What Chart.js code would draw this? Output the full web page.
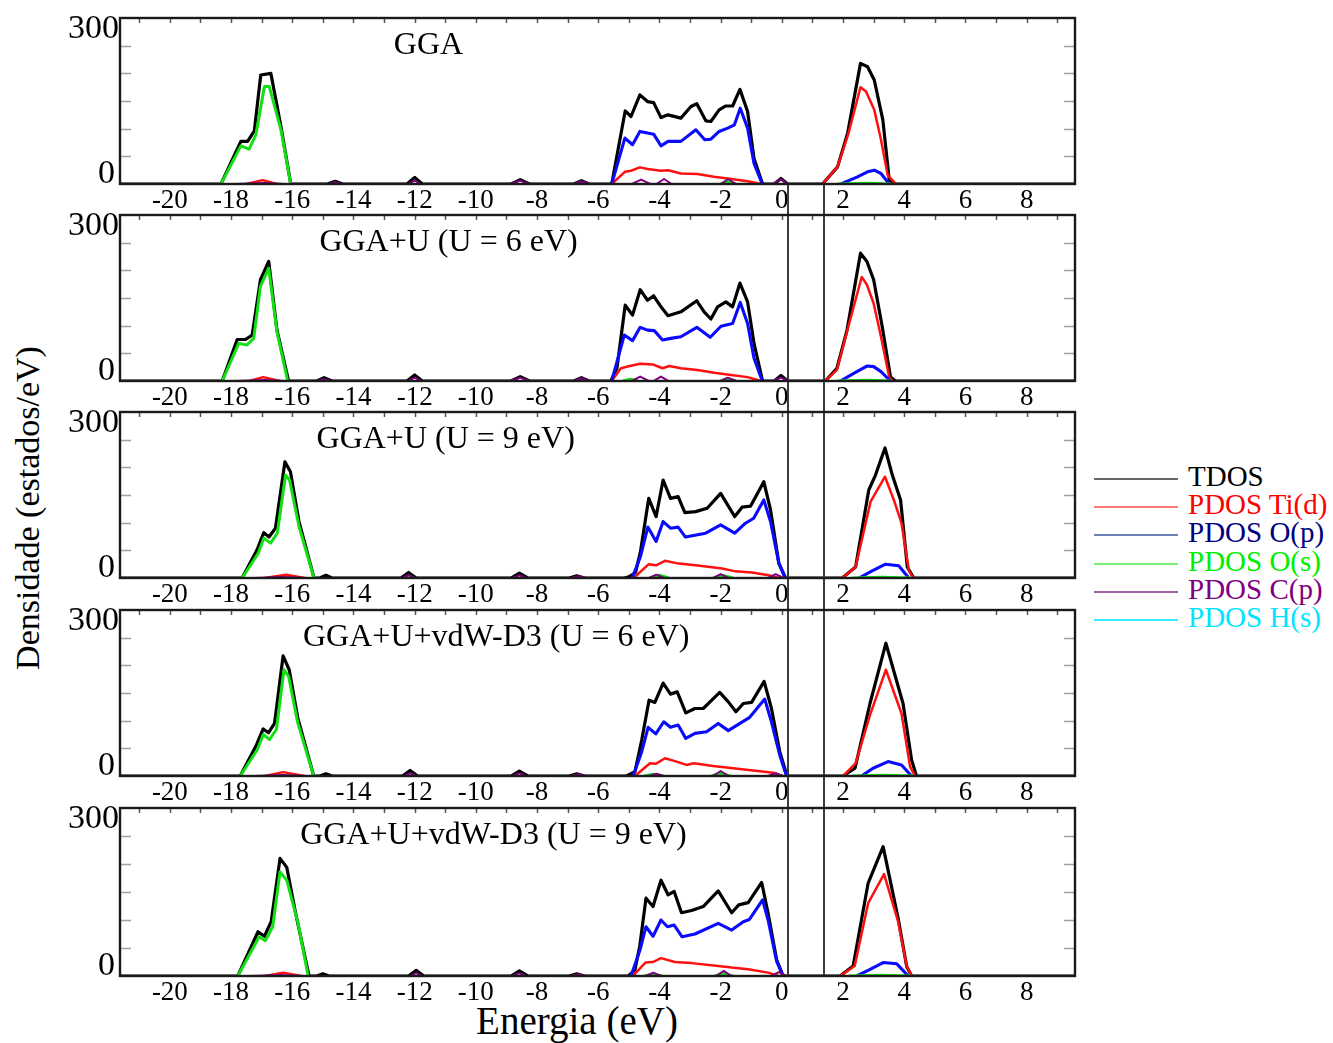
<!DOCTYPE html>
<html><head><meta charset="utf-8">
<script src="https://cdn.jsdelivr.net/npm/chart.js@4.4.1/dist/chart.umd.min.js"></script>
<style>
html,body{margin:0;padding:0;background:#fff;}
#wrap{position:relative;width:1333px;height:1043px;overflow:hidden;background:#fff;font-family:"Liberation Serif","Times New Roman",serif;}
canvas{position:absolute;left:0;}
.ttl{position:absolute;color:#000;white-space:nowrap;text-align:center;}
#ytitle{left:-172px;top:488px;width:400px;height:40px;line-height:40px;font-size:34px;transform:rotate(-90deg);}
#xtitle{left:377px;top:997px;width:400px;height:48px;line-height:48px;font-size:39px;}
.leg{position:absolute;left:1094px;height:28px;line-height:28px;font-size:29px;white-space:nowrap;}
.leg i{display:inline-block;width:84px;height:2px;vertical-align:middle;margin-right:10px;}
</style></head>
<body><div id="wrap">
<div id="ytitle" class="ttl">Densidade (estados/eV)</div>
<div id="xtitle" class="ttl">Energia (eV)</div>
</div>
<script>
// ---------- axis / label data ----------
const xTicks = [-20,-18,-16,-14,-12,-10,-8,-6,-4,-2,0,2,4,6,8];
const xMinorTicks = [-21,-20,-19,-18,-17,-16,-15,-14,-13,-12,-11,-10,-9,-8,-7,-6,-5,-4,-3,-2,-1,0,1,2,3,4,5,6,7,8,9];
const yLabelValues = [0, 300];
const yMinorTicks = [50,100,150,200,250];
const xRange = [-21.63, 9.58];
const gapMarkers = [0.2, 1.37];
const panelTitles = ['GGA','GGA+U (U = 6 eV)','GGA+U (U = 9 eV)','GGA+U+vdW-D3 (U = 6 eV)','GGA+U+vdW-D3 (U = 9 eV)'];
const seriesNames = ['TDOS','PDOS Ti(d)','PDOS O(p)','PDOS O(s)','PDOS C(p)','PDOS H(s)'];

// ---------- panel 1: GGA ----------
const tdosGGA = [[-21.63,0],[-18.33,0],[-17.68,77],[-17.46,77],[-17.24,96],[-17.03,197],[-16.70,200],[-16.37,104],[-16.05,0],[-14.85,0],[-14.6,5],[-14.35,0],[-12.25,0],[-12.0,12],[-11.75,0],[-8.85,0],[-8.55,8],[-8.25,0],[-6.8,0],[-6.55,6],[-6.3,0],[-5.56,0],[-5.12,132],[-4.93,122],[-4.64,161],[-4.39,149],[-4.19,147],[-3.95,120],[-3.72,125],[-3.30,119],[-2.97,140],[-2.78,145],[-2.48,114],[-2.32,113],[-2.05,134],[-1.83,141],[-1.61,141],[-1.37,171],[-1.12,131],[-0.91,46],[-0.63,0],[-0.25,0],[-0.03,10],[0.19,0],[1.33,0],[1.82,31],[2.15,92],[2.57,218],[2.80,212],[3.02,188],[3.30,116],[3.51,7],[3.66,0],[9.58,0]];
const tidGGA = [[-17.5,0],[-16.97,7],[-16.5,0],[-12,null],[-5.56,0],[-5.13,22],[-4.93,24],[-4.64,30],[-4.39,27],[-3.95,24],[-3.72,25],[-3.30,19],[-2.76,18],[-2.22,13],[-1.77,10],[-1.12,5],[-0.68,0],[0.5,null],[1.33,0],[1.82,31],[2.17,90],[2.57,175],[2.75,167],[3.02,134],[3.24,80],[3.46,16],[3.73,0]];
const opGGA = [[-5.56,0],[-5.13,83],[-4.88,71],[-4.64,95],[-4.39,92],[-4.19,90],[-3.95,69],[-3.72,77],[-3.30,77],[-2.81,98],[-2.52,80],[-2.32,81],[-2.05,95],[-1.77,101],[-1.55,107],[-1.36,137],[-1.12,101],[-0.91,37],[-0.64,0],[0.5,null],[1.93,0],[2.47,13],[2.80,22],[3.02,25],[3.24,19],[3.51,0]];
const osGGA = [[-18.33,0],[-17.68,69],[-17.41,63],[-17.19,89],[-16.91,176],[-16.75,176],[-16.37,98],[-16.05,0],[-10,null],[-2.0,0],[-1.75,4],[-1.5,0],[0.5,null],[1.8,0],[2.8,1.5],[3.6,0]];
const cpGGA = [[-17.9,0],[-16.9,2],[-16.2,0],[-15,null],[-14.8,0],[-14.6,3],[-14.4,0],[-13,null],[-12.2,0],[-12.0,6],[-11.8,0],[-10,null],[-8.85,0],[-8.55,6],[-8.25,0],[-7,null],[-6.8,0],[-6.55,5],[-6.3,0],[-5.5,null],[-4.9,0],[-4.6,8],[-4.3,0],[-4.2,null],[-4.1,0],[-3.85,9],[-3.6,0],[-3,null],[-2.0,0],[-1.75,9],[-1.5,0],[-1,null],[-0.3,0],[-0.05,9],[0.2,0]];
const hsGGA = [[-21.63,0],[9.58,0]];

// ---------- panel 2: GGA+U (U = 6 eV) ----------
const tdosU6 = [[-21.63,0],[-18.29,0],[-17.80,75],[-17.53,75],[-17.31,83],[-17.04,183],[-16.77,216],[-16.50,92],[-16.12,0],[-15.2,0],[-14.96,6],[-14.7,0],[-12.25,0],[-12.0,11],[-11.75,0],[-8.85,0],[-8.55,8],[-8.25,0],[-6.8,0],[-6.55,6],[-6.3,0],[-5.59,0],[-5.39,23],[-5.12,137],[-4.88,119],[-4.63,165],[-4.39,146],[-4.19,154],[-3.95,134],[-3.72,118],[-3.30,125],[-2.78,145],[-2.54,125],[-2.32,112],[-2.10,134],[-1.83,143],[-1.61,134],[-1.37,177],[-1.12,143],[-0.91,68],[-0.63,0],[-0.25,0],[-0.03,10],[0.19,0],[1.42,0],[1.80,23],[2.13,92],[2.57,231],[2.78,216],[3.00,183],[3.28,98],[3.55,7],[3.71,0],[9.58,0]];
const tidU6 = [[-17.4,0],[-16.95,7],[-16.4,0],[-12,null],[-5.56,0],[-5.26,23],[-4.97,27],[-4.63,31],[-4.22,30],[-3.90,23],[-3.68,27],[-3.30,23],[-2.76,20],[-2.21,15],[-1.66,11],[-1.12,7],[-0.68,0],[0.5,null],[1.42,0],[1.80,20],[2.20,104],[2.61,188],[2.78,174],[3.00,140],[3.24,80],[3.51,7],[3.62,0]];
const opU6 = [[-5.56,0],[-5.15,83],[-4.88,73],[-4.63,97],[-4.39,92],[-4.17,91],[-3.90,74],[-3.63,77],[-3.30,80],[-2.78,97],[-2.34,79],[-1.99,99],[-1.61,104],[-1.36,142],[-1.12,104],[-0.91,41],[-0.64,0],[0.5,null],[1.91,0],[2.45,17],[2.78,27],[3.00,26],[3.24,17],[3.55,0]];
const osU6 = [[-18.29,0],[-17.75,68],[-17.48,65],[-17.26,77],[-17.04,171],[-16.77,204],[-16.50,89],[-16.15,0],[-10,null],[-5.2,0],[-4.95,3],[-4.7,0],[-3,null],[-2.0,0],[-1.77,4],[-1.5,0],[0.5,null],[1.8,0],[2.8,1.5],[3.6,0]];
const cpU6 = [[-17.9,0],[-16.9,2],[-16.2,0],[-15.5,null],[-15.2,0],[-14.96,3],[-14.7,0],[-13,null],[-12.2,0],[-12.0,6],[-11.8,0],[-10,null],[-8.85,0],[-8.55,6],[-8.25,0],[-7,null],[-6.8,0],[-6.55,5],[-6.3,0],[-5.5,null],[-4.9,0],[-4.63,8],[-4.35,0],[-4.25,null],[-4.2,0],[-3.95,8],[-3.7,0],[-3,null],[-2.0,0],[-1.77,6],[-1.5,0],[-1,null],[-0.3,0],[-0.03,6],[0.2,0]];
const hsU6 = [[-21.63,0],[9.58,0]];

// ---------- panel 3: GGA+U (U = 9 eV) ----------
const tdosU9 = [[-21.63,0],[-17.64,0],[-17.15,51],[-16.93,82],[-16.76,74],[-16.55,90],[-16.24,210],[-16.06,192],[-15.78,102],[-15.29,0],[-15.1,0],[-14.9,5],[-14.7,0],[-12.45,0],[-12.2,10],[-11.95,0],[-8.85,0],[-8.58,9],[-8.3,0],[-6.95,0],[-6.7,4],[-6.45,0],[-5.15,0],[-5.0,2],[-4.78,10],[-4.62,48],[-4.35,144],[-4.11,111],[-3.88,177],[-3.64,144],[-3.39,147],[-3.17,118],[-2.82,120],[-2.44,126],[-2.00,153],[-1.54,111],[-1.30,128],[-1.02,130],[-0.59,174],[-0.37,123],[-0.10,27],[0.12,0],[1.97,0],[2.41,20],[2.84,159],[3.06,186],[3.37,235],[3.61,186],[3.88,141],[4.10,20],[4.31,0],[9.58,0]];
const tidU9 = [[-16.9,0],[-16.2,6],[-15.6,0],[-10,null],[-4.84,0],[-4.35,25],[-4.11,23],[-3.82,31],[-3.37,26],[-2.82,23],[-1.95,17],[-1.52,12],[-0.98,10],[-0.43,5],[-0.1,0],[1,null],[1.97,0],[2.41,20],[2.90,138],[3.37,183],[3.66,141],[3.91,99],[4.15,14],[4.29,0]];
const opU9 = [[-4.89,0],[-4.62,39],[-4.38,92],[-4.11,66],[-3.88,102],[-3.64,90],[-3.39,92],[-3.15,74],[-2.49,81],[-2.00,96],[-1.54,81],[-1.19,99],[-0.92,108],[-0.59,141],[-0.37,102],[-0.10,27],[0.11,0],[1,null],[2.52,0],[2.95,13],[3.39,25],[3.82,22],[4.15,0]];
const osU9 = [[-17.64,0],[-17.11,45],[-16.93,72],[-16.71,63],[-16.49,81],[-16.22,186],[-16.09,177],[-15.78,93],[-15.29,0],[-10,null],[-4.3,0],[-4.0,5],[-3.7,0],[-3,null],[-2.2,0],[-1.9,4],[-1.6,0],[1,null],[2.3,0],[3.3,1.5],[4.2,0]];
const cpU9 = [[-17.3,0],[-16.3,2],[-15.5,0],[-13,null],[-12.4,0],[-12.2,5],[-12.0,0],[-10,null],[-8.8,0],[-8.58,5],[-8.35,0],[-7.5,null],[-6.9,0],[-6.65,3],[-6.4,0],[-5,null],[-4.35,0],[-4.1,6],[-3.85,0],[-3,null],[-2.25,0],[-2.0,7],[-1.75,0],[-1,null],[-0.45,0],[-0.2,7],[0.05,0]];
const hsU9 = [[-21.63,0],[9.58,0]];

// ---------- panel 4: GGA+U+vdW-D3 (U = 6 eV) ----------
const tdosD3U6 = [[-21.63,0],[-17.7,0],[-17.18,55],[-16.95,85],[-16.78,78],[-16.58,95],[-16.3,217],[-16.1,192],[-15.82,105],[-15.3,0],[-15.1,0],[-14.9,4],[-14.7,0],[-12.4,0],[-12.15,10],[-11.9,0],[-8.85,0],[-8.58,9],[-8.3,0],[-6.95,0],[-6.7,4],[-6.45,0],[-5.08,0],[-4.80,8],[-4.58,65],[-4.34,137],[-4.15,133],[-3.88,168],[-3.64,148],[-3.42,152],[-3.14,114],[-2.84,122],[-2.57,122],[-2.03,151],[-1.75,134],[-1.50,116],[-1.26,131],[-0.99,133],[-0.58,171],[-0.34,122],[-0.07,44],[0.17,0],[2.00,0],[2.39,14],[2.88,131],[3.40,240],[3.96,131],[4.24,29],[4.40,0],[9.58,0]];
const tidD3U6 = [[-16.9,0],[-16.3,7],[-15.6,0],[-10,null],[-4.80,0],[-4.31,23],[-4.12,22],[-3.82,32],[-3.44,26],[-3.12,20],[-2.88,23],[-2.25,18],[-1.59,14],[-0.94,10],[-0.28,6],[0.0,0],[1,null],[2.00,0],[2.41,23],[2.88,110],[3.40,192],[3.91,113],[4.19,17],[4.35,0]];
const opD3U6 = [[-4.86,0],[-4.58,44],[-4.37,88],[-4.12,76],[-3.86,98],[-3.64,88],[-3.39,92],[-3.14,68],[-2.84,77],[-2.46,80],[-2.08,95],[-1.75,82],[-1.37,95],[-1.05,106],[-0.56,139],[-0.34,98],[-0.07,38],[0.15,0],[1,null],[2.60,0],[2.98,14],[3.47,26],[3.91,20],[4.24,0]];
const osD3U6 = [[-17.7,0],[-17.14,48],[-16.95,75],[-16.74,66],[-16.52,84],[-16.27,192],[-16.12,180],[-15.82,96],[-15.3,0],[-10,null],[-4.5,0],[-4.2,3],[-3.9,0],[-3,null],[-2.3,0],[-2.0,5],[-1.7,0],[1,null],[2.3,0],[3.3,1.5],[4.3,0]];
const cpD3U6 = [[-17.3,0],[-16.3,2],[-15.5,0],[-13,null],[-12.35,0],[-12.15,5],[-11.95,0],[-10,null],[-8.8,0],[-8.58,5],[-8.35,0],[-7.5,null],[-6.9,0],[-6.65,3],[-6.4,0],[-5,null],[-4.35,0],[-4.1,4],[-3.85,0],[-3,null],[-2.25,0],[-2.0,9],[-1.75,0],[-1,null],[-0.45,0],[-0.2,5],[0.05,0]];
const hsD3U6 = [[-21.63,0],[9.58,0]];

// ---------- panel 5: GGA+U+vdW-D3 (U = 9 eV) ----------
const tdosD3U9 = [[-21.63,0],[-17.78,0],[-17.12,79],[-16.91,71],[-16.69,97],[-16.40,210],[-16.18,194],[-15.89,112],[-15.45,0],[-15.2,0],[-15.0,4],[-14.8,0],[-12.2,0],[-11.95,10],[-11.7,0],[-8.85,0],[-8.58,9],[-8.3,0],[-6.95,0],[-6.7,4],[-6.45,0],[-5.02,0],[-4.80,11],[-4.64,55],[-4.44,139],[-4.21,124],[-3.95,171],[-3.72,145],[-3.52,151],[-3.28,113],[-2.95,117],[-2.57,124],[-2.08,152],[-1.64,113],[-1.41,127],[-1.10,131],[-0.66,167],[-0.45,112],[-0.17,29],[0.04,0],[1.90,0],[2.33,18],[2.82,166],[3.31,231],[3.80,103],[4.08,17],[4.24,0],[9.58,0]];
const tidD3U9 = [[-16.9,0],[-16.3,6],[-15.7,0],[-10,null],[-4.87,0],[-4.46,24],[-4.21,25],[-3.95,32],[-3.50,25],[-2.95,23],[-2.08,18],[-1.64,15],[-1.10,12],[-0.45,6],[-0.1,0],[1,null],[1.90,0],[2.38,18],[2.82,130],[3.34,182],[3.80,97],[4.08,18],[4.24,0]];
const opD3U9 = [[-4.93,0],[-4.64,46],[-4.44,88],[-4.21,71],[-3.95,100],[-3.74,88],[-3.52,91],[-3.26,70],[-2.84,75],[-2.08,94],[-1.64,82],[-1.26,97],[-1.06,101],[-0.63,136],[-0.45,100],[-0.17,26],[0.04,0],[1,null],[2.44,0],[2.82,10],[3.31,24],[3.75,22],[4.13,0]];
const osD3U9 = [[-17.78,0],[-17.08,70],[-16.88,63],[-16.64,88],[-16.40,186],[-16.18,171],[-15.81,94],[-15.48,0],[-10,null],[-4.5,0],[-4.2,3],[-3.9,0],[-3,null],[-2.2,0],[-1.9,4],[-1.6,0],[1,null],[2.2,0],[3.2,1.5],[4.2,0]];
const cpD3U9 = [[-17.4,0],[-16.4,2],[-15.6,0],[-13,null],[-12.15,0],[-11.95,5],[-11.75,0],[-10,null],[-8.8,0],[-8.58,5],[-8.35,0],[-7.5,null],[-6.9,0],[-6.65,3],[-6.4,0],[-5,null],[-4.45,0],[-4.2,6],[-3.95,0],[-3,null],[-2.15,0],[-1.9,9],[-1.65,0],[-1,null],[-0.35,0],[-0.1,7],[0.15,0]];
const hsD3U9 = [[-21.63,0],[9.58,0]];

const panelSeries = [
  [tdosGGA, tidGGA, opGGA, osGGA, cpGGA, hsGGA],
  [tdosU6, tidU6, opU6, osU6, cpU6, hsU6],
  [tdosU9, tidU9, opU9, osU9, cpU9, hsU9],
  [tdosD3U6, tidD3U6, opD3U6, osD3U6, cpD3U6, hsD3U6],
  [tdosD3U9, tidD3U9, opD3U9, osD3U9, cpD3U9, hsD3U9]
];

// ---------- layout / style ----------
const panelTop = [18, 215, 412, 610, 808];
const panelH = [166, 166, 166, 166, 168];
const titleFrac = [0.323, 0.344, 0.341, 0.394, 0.391];
const seriesColor = ['#000000','#ff1010','#0a0aff','#12e012','#800080','#00ffff'];
const seriesWidth = [3.2, 2.5, 3.1, 3.0, 2.0, 1.5];
const seriesOrder = [6, 5, 4, 3, 2, 7];
const legendLine = ['#666666','#ff7777','#7080b8','#77ee77','#a060a0','#33eeff'];
const legendText = ['#000000','#ff0000','#000080','#00ee00','#800080','#00e5ff'];
const legendY = [476, 504, 532, 561, 589, 617];
const FONT = '"Liberation Serif", "Times New Roman", serif';

const wrap = document.getElementById('wrap');
seriesNames.forEach((n, k) => {
  const d = document.createElement('div');
  d.className = 'leg';
  d.style.top = (legendY[k] - 14) + 'px';
  d.style.color = legendText[k];
  d.innerHTML = '<i style="background:' + legendLine[k] + '"></i>' + n;
  wrap.appendChild(d);
});

const toXY = a => a.map(p => ({x: p[0], y: p[1]}));

const decor = {
  id: 'panelDecor',
  afterDraw(chart, args, o) {
    const {ctx, chartArea: a, scales: {x, y}} = chart;
    ctx.save();
    ctx.strokeStyle = '#a0a0a0'; ctx.lineWidth = 1.5;
    yMinorTicks.forEach(v => {
      const py = Math.round(y.getPixelForValue(v)) + 0.5;
      ctx.beginPath();
      ctx.moveTo(a.left, py); ctx.lineTo(a.left + 11, py);
      ctx.moveTo(a.right - 11, py); ctx.lineTo(a.right, py);
      ctx.stroke();
    });
    ctx.strokeStyle = '#555'; ctx.lineWidth = 1.5;
    xMinorTicks.forEach(e => {
      const px = Math.round(x.getPixelForValue(e)) + 0.5;
      ctx.beginPath(); ctx.moveTo(px, a.top); ctx.lineTo(px, a.top + 5); ctx.stroke();
    });
    ctx.strokeStyle = '#1a1a1a'; ctx.lineWidth = 2.4;
    ctx.strokeRect(a.left, a.top, a.right - a.left, a.bottom - a.top);
    ctx.fillStyle = '#000';
    ctx.font = '34px ' + FONT; ctx.textAlign = 'right'; ctx.textBaseline = 'alphabetic';
    yLabelValues.forEach((v, i) => {
      const py = y.getPixelForValue(v);
      if (i === 0) ctx.fillText(String(v), a.left - 5, py - 1);
      else ctx.fillText(String(v), a.left - 1, py + 20);
    });
    ctx.font = '32px ' + FONT; ctx.textAlign = 'center';
    ctx.fillText(o.title, a.left + o.frac * (a.right - a.left), a.top + 36);
    ctx.restore();
  }
};
const gapLines = {
  id: 'gapLines',
  afterDatasetsDraw(chart, args, o) {
    const {ctx, chartArea: a, scales: {x}} = chart;
    const y0 = o.first ? a.bottom + 1 : 0;
    const y1 = o.last ? a.bottom : chart.height;
    ctx.save(); ctx.strokeStyle = '#3c3c3c'; ctx.lineWidth = 2;
    gapMarkers.forEach(e => {
      const px = Math.round(x.getPixelForValue(e));
      ctx.beginPath(); ctx.moveTo(px, y0); ctx.lineTo(px, y1); ctx.stroke();
    });
    ctx.restore();
  }
};

panelSeries.forEach((series, i) => {
  const cv = document.createElement('canvas');
  const h = 2 + panelH[i] + 30 + 2;
  cv.width = 1090; cv.height = h;
  cv.style.top = (panelTop[i] - 2) + 'px';
  cv.style.width = '1090px'; cv.style.height = h + 'px';
  wrap.appendChild(cv);
  new Chart(cv, {
    type: 'line',
    data: {datasets: series.map((s, k) => ({
      label: seriesNames[k], data: toXY(s), borderColor: seriesColor[k], backgroundColor: seriesColor[k],
      borderWidth: seriesWidth[k], order: seriesOrder[k], pointRadius: 0, tension: 0, fill: false,
      spanGaps: false, borderJoinStyle: 'round'
    }))},
    options: {
      responsive: false, animation: false, devicePixelRatio: 1, events: [],
      layout: {padding: {left: 120, right: 15, top: 2, bottom: 2}},
      plugins: {
        legend: {display: false}, tooltip: {enabled: false},
        gapLines: {first: i === 0, last: i === panelSeries.length - 1},
        panelDecor: {title: panelTitles[i], frac: titleFrac[i]}
      },
      scales: {
        x: {
          type: 'linear', min: xRange[0], max: xRange[1],
          grid: {display: false, drawTicks: false}, border: {display: false},
          afterBuildTicks: s => { s.ticks = xTicks.map(v => ({value: v})); },
          afterFit: s => { s.height = 30; },
          ticks: {autoSkip: false, maxRotation: 0, minRotation: 0, padding: 3, color: '#000',
            font: {family: FONT, size: 27, lineHeight: 1}, callback: v => String(v)}
        },
        y: {display: false, min: 0, max: 300}
      }
    },
    plugins: [gapLines, decor]
  });
});
</script>
</body></html>
